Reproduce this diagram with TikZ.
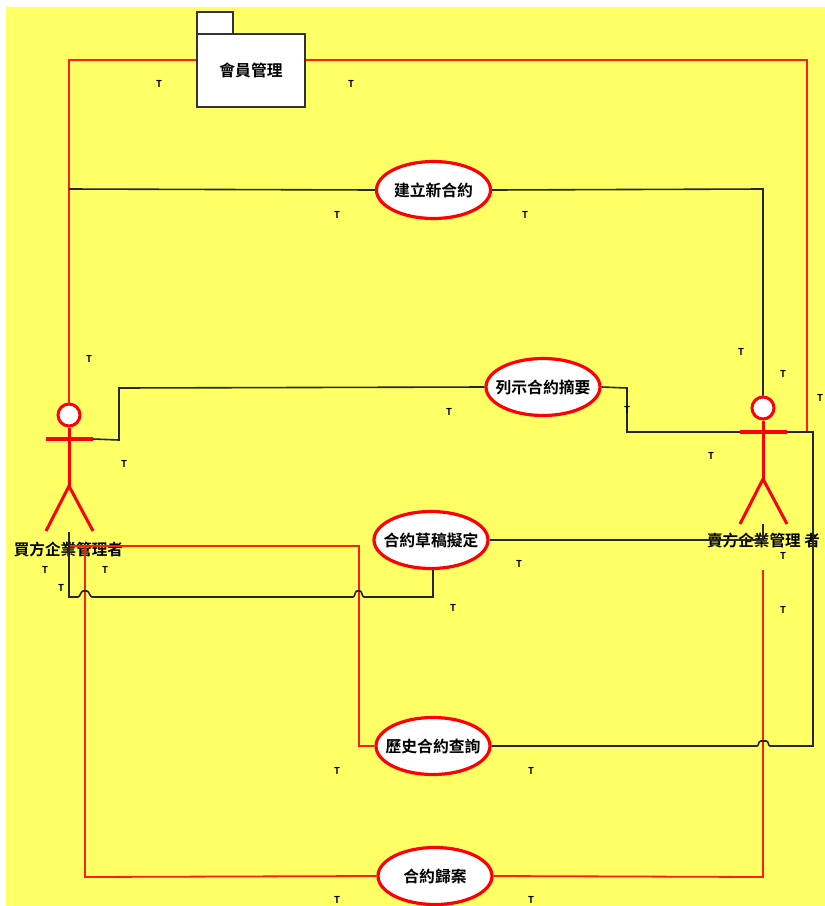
\documentclass[tikz,border=0pt]{standalone}
\usepackage{fontspec}
\usepackage{xcolor}
\usepackage{tikz}
\usetikzlibrary{shapes.geometric}
\setmainfont{Noto Sans CJK TC}[BoldFont={* Bold}]
\definecolor{padyellow}{RGB}{255,255,102}
\definecolor{linered}{RGB}{255,30,10}
\tikzset{
  usecase/.style={ellipse, draw=red, fill=white, line width=3.2pt, minimum width=114pt, minimum height=57pt, inner xsep=-14pt, inner ysep=0pt, font=\fontsize{15.8}{16}\selectfont\bfseries},
  package/.style={rectangle, draw=black!80, fill=white, line width=1.5pt, inner sep=0pt},
  blackline/.style={draw=black!85, line width=1.6pt},
  redline/.style={draw=linered, line width=1.8pt},
  stickman/.style={draw=red, line width=3pt},
  actorlabel/.style={font=\fontsize{15.6}{16}\selectfont\bfseries, inner sep=0pt},
  tick/.style={font=\fontsize{9.5}{10}\selectfont\bfseries, inner sep=0pt}
}
\begin{document}
\begin{tikzpicture}[x=1pt, y=-1pt]
    \useasboundingbox (0, 0) rectangle (825, 906);
    \fill[white] (0, 0) rectangle (825, 906);
    \fill[padyellow] (6, 7) rectangle (825, 906);
    % package with its tab
    \node[package, minimum width=36pt, minimum height=22pt] (tab) at (215, 23) {};
    \node[package, minimum width=108pt, minimum height=73pt, font=\fontsize{15.8}{16}\selectfont\bfseries] (member) at (251, 70.5) {會員管理};
    % use cases
    \node[usecase] (create) at (433.5, 190) {建立新合約};
    \node[usecase] (listing) at (543, 387) {列示合約摘要};
    \node[usecase] (draft) at (431, 540) {合約草稿擬定};
    \node[usecase] (history) at (433, 746) {歷史合約查詢};
    \node[usecase] (archive) at (435, 876) {合約歸案};
    % actor names
    \node[actorlabel] (buyer) at (68.5, 549) {買方企業管理者};
    \node[actorlabel] (seller) at (763.5, 540) {賣方企業管理 者};
    % actor points
    \foreach \who/\x/\y in {L/69/415, R/763/408} {
      \node[circle, draw=red, fill=white, line width=3pt, minimum size=22pt, inner sep=0pt] (head\who) at (\x, \y) {};
      \coordinate (arm\who) at (\x, \y+24);
      \coordinate (armA\who) at (\x-23, \y+24);
      \coordinate (armB\who) at (\x+24, \y+24);
      \coordinate (hip\who) at (\x, \y+71);
      \coordinate (footA\who) at (\x-23, \y+116);
      \coordinate (footB\who) at (\x+24, \y+116);
    }
    % red lines
    \draw[redline] (headL.north) -- (69, 60) -- (member.west |- 0, 60);
    \draw[redline] (member.east |- 0, 60) -- (807, 60) -- (807, 432);
    \draw[redline] (68, 546) -- (359, 546) -- (359, 746) -- (history.west);
    \draw[redline] (85, 546) -- (85, 877) -- (archive.west);
    \draw[redline] (archive.east) -- (763, 877) -- (763, 570);
    % black lines
    \draw[blackline] (69, 189) -- (create.west);
    \draw[blackline] (create.east) -- (763, 189) -- (headR.north);
    \draw[blackline] (armBL) -- (119, 440) -- (119, 388) -- (listing.west);
    \draw[blackline] (listing.east) -- (627, 388) -- (627, 432) -- (813, 432) -- (813, 746)
      -- (770, 746) .. controls (768, 746) and (769, 741) .. (766, 741) -- (761, 741) .. controls (758, 741) and (759, 746) .. (757, 746)
      -- (history.east);
    \draw[blackline] (draft.east) -- (763, 540) -- (footAR -| 763, 0);
    \draw[blackline] (69, 532) -- (69, 597) -- (78, 597) .. controls (80, 597) and (81, 591) .. (83, 591) -- (87, 591) .. controls (89, 591) and (90, 597) .. (92, 597)
      -- (353, 597) .. controls (355, 597) and (355, 591) .. (357, 591) -- (360, 591) .. controls (362, 591) and (362, 597) .. (364, 597)
      -- (433, 597) -- (draft.south -| 433, 0);
    % actors
    \foreach \who in {L, R} {
      \draw[stickman] (head\who.south) -- (hip\who);
      \draw[stickman, line width=3.6pt] (armA\who) -- (armB\who);
      \draw[stickman] (footA\who) -- (hip\who) -- (footB\who);
    }
    % tick marks
    \foreach \i/\x/\y in {1/159/84, 2/351/84, 3/337/215, 4/525/215, 5/89/359, 6/741/352, 7/783/374, 8/449/412, 9/627/410, 10/820/398, 11/124/464, 12/711/456, 13/45/570, 14/105/570, 15/61/588, 16/519/564, 17/783/556, 18/453/608, 19/783/610, 20/337/771, 21/531/771, 22/337/900, 23/531/900}
      \node[tick] (tick\i) at (\x, \y) {T};
\end{tikzpicture}
\end{document}
